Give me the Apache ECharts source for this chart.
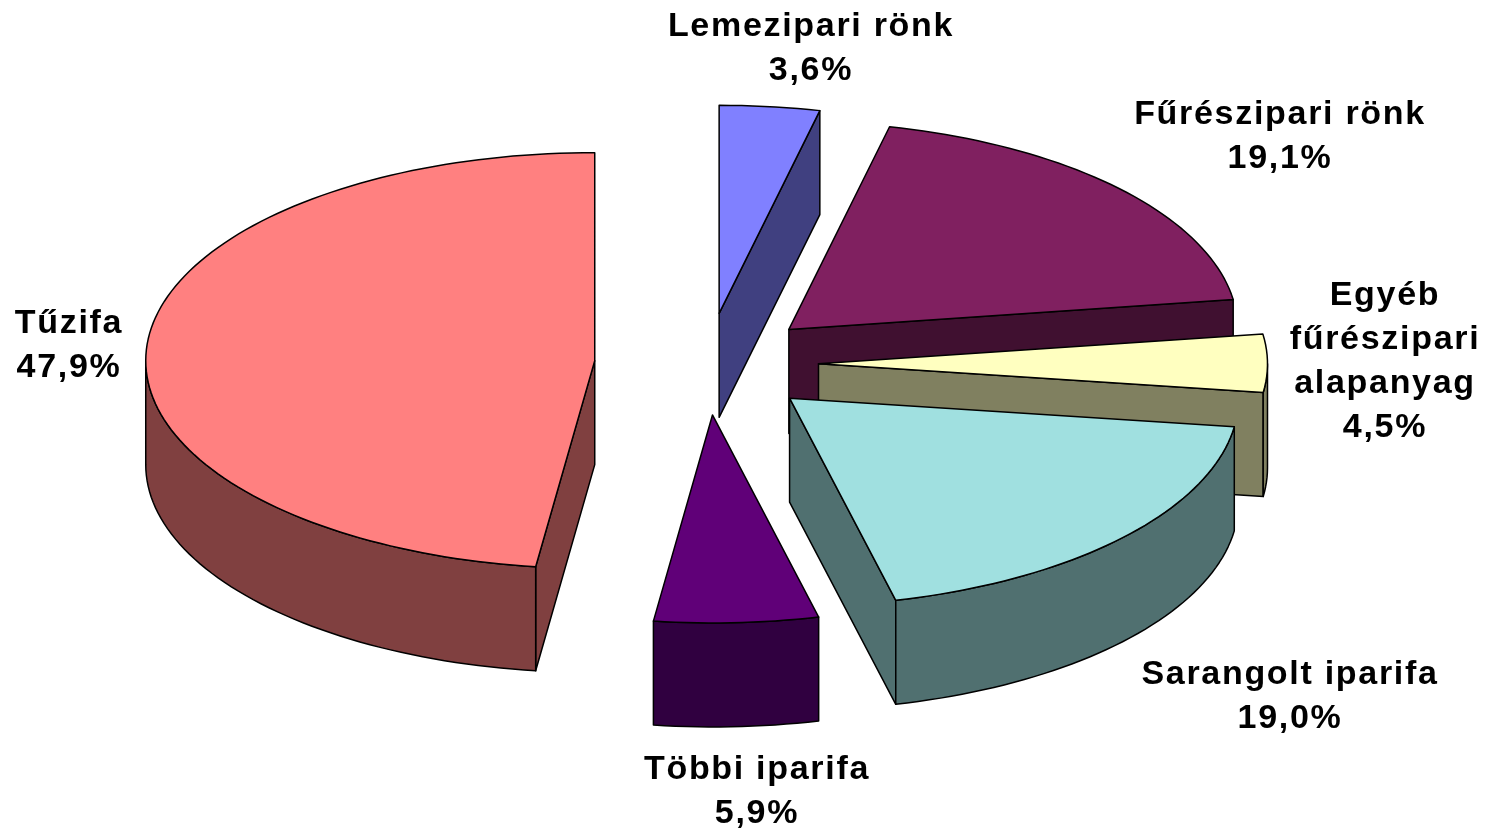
<!DOCTYPE html>
<html>
<head>
<meta charset="utf-8">
<style>html,body{margin:0;padding:0;background:#fff}#c{width:1491px;height:829px}</style>
<script src="https://cdn.jsdelivr.net/npm/echarts@6/dist/echarts.min.js"></script>
</head>
<body>
<div id="c"></div>
<script>
// Data (clockwise from 12 o'clock)
const categories = ['Lemezipari rönk', 'Fűrészipari rönk', 'Egyéb\nfűrészipari\nalapanyag', 'Sarangolt iparifa', 'Többi iparifa', 'Tűzifa'];
const shares = [3.6, 19.1, 4.5, 19.0, 5.9, 47.9];

// Styles
const topColors = ['#8080FF', '#802060', '#FFFFC0', '#A0E0E0', '#600078', '#FF8080'];
const sideColors = ['#404080', '#401030', '#808060', '#507070', '#300040', '#804040'];

// Layout
const CX = 706.5, CY = 364, RX = 449, RY = 208, DEPTH = 104, EXPLODE_X = 112, EXPLODE_Y = 51;
const labelAnchors = [[811, 25], [1280, 113], [1385, 294], [1290, 673], [757, 768], [69, 322]];
const LETTER_SPACING = '1.7px';

// Label letter spacing of the reference
const nativeFillText = CanvasRenderingContext2D.prototype.fillText;
CanvasRenderingContext2D.prototype.fillText = function () {
  this.letterSpacing = LETTER_SPACING;
  return nativeFillText.apply(this, arguments);
};

const total = shares.reduce((a, b) => a + b, 0);
const rad = d => d * Math.PI / 180;

function renderSlice(params, api) {
  const i = params.dataIndex;
  let before = 0;
  for (let k = 0; k < i; k++) before += shares[k];
  const start = before / total * 360;
  const end = (before + api.value(0)) / total * 360;
  const mid = rad((start + end) / 2);
  const ax = CX + EXPLODE_X * Math.sin(mid);
  const ay = CY - EXPLODE_Y * Math.cos(mid);
  const pt = d => [ax + RX * Math.sin(rad(d)), ay - RY * Math.cos(rad(d))];
  const down = p => [p[0], p[1] + DEPTH];
  const sweep = (a, b) => {
    const out = [];
    const n = Math.max(1, Math.ceil((b - a) / 1.5));
    for (let s = 0; s <= n; s++) out.push(pt(a + (b - a) * s / n));
    return out;
  };
  const children = [];
  const wall = points => children.push({
    type: 'polygon',
    shape: { points: points },
    style: { fill: sideColors[i], stroke: '#000', lineWidth: 1.5, lineJoin: 'round' }
  });
  // cut faces turned toward the viewer
  const apex = [ax, ay];
  if (Math.sin(rad(start)) < -1e-6) {
    const p = pt(start);
    wall([apex, p, down(p), down(apex)]);
  }
  if (Math.sin(rad(end)) > 1e-6) {
    const p = pt(end);
    wall([apex, p, down(p), down(apex)]);
  }
  // outer rim on the front half
  const f0 = Math.max(start, 90), f1 = Math.min(end, 270);
  if (f1 > f0) {
    const rim = sweep(f0, f1);
    wall(rim.concat(rim.slice().reverse().map(down)));
  }
  // top face
  children.push({
    type: 'polygon',
    shape: { points: [apex].concat(sweep(start, end)) },
    style: { fill: topColors[i], stroke: '#000', lineWidth: 1.5, lineJoin: 'round' }
  });
  // label
  const lines = (categories[i] + '\n' + api.value(0).toFixed(1).replace('.', ',') + '%').split('\n');
  children.push({
    type: 'text',
    style: {
      text: lines.join('\n'),
      x: labelAnchors[i][0],
      y: labelAnchors[i][1] - 20,
      align: 'center',
      verticalAlign: 'top',
      font: 'bold 34px "Liberation Sans", Arial, sans-serif',
      lineHeight: 44,
      fill: '#000'
    }
  });
  return { type: 'group', children: children };
}

const chart = echarts.init(document.getElementById('c'), null, { renderer: 'canvas', width: 1491, height: 829 });
chart.setOption({
  backgroundColor: '#fff',
  animation: false,
  series: [{
    type: 'custom',
    coordinateSystem: 'none',
    renderItem: renderSlice,
    clip: false,
    data: shares.map((v, i) => ({ name: categories[i], value: [v] }))
  }]
});
</script>
</body>
</html>
